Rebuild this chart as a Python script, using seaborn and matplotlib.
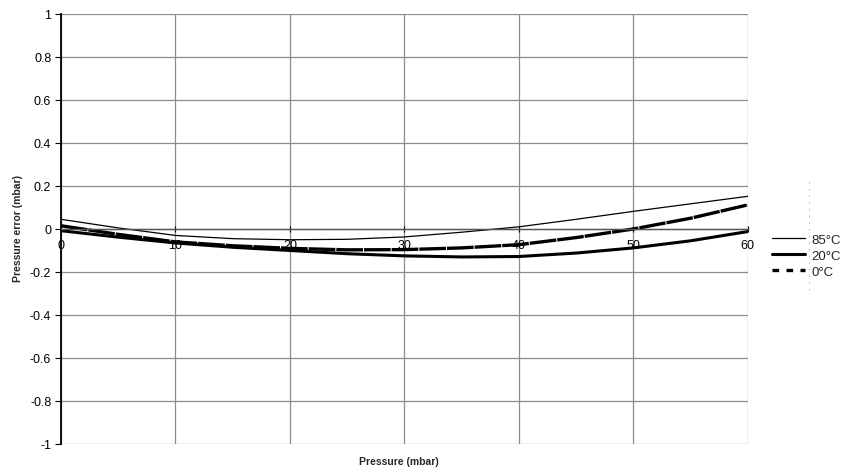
import numpy as np
import pandas as pd
import matplotlib
matplotlib.use("Agg")
import matplotlib.pyplot as plt
from matplotlib.lines import Line2D
import seaborn as sns

# Данные
pressure = [0, 5, 10, 15, 20, 25, 30, 35, 40, 45, 50, 55, 60]
err_85 = [0.045, 0.005, -0.03, -0.045, -0.05, -0.048, -0.037, -0.015, 0.01, 0.045, 0.082, 0.117, 0.152]
err_20 = [-0.008, -0.038, -0.065, -0.085, -0.10, -0.115, -0.125, -0.13, -0.128, -0.112, -0.088, -0.055, -0.012]
err_0 = [0.015, -0.025, -0.06, -0.078, -0.09, -0.097, -0.096, -0.088, -0.073, -0.04, 0.0, 0.05, 0.112]
series_labels = ["85°C", "20°C", "0°C"]
x_ticks = [0, 10, 20, 30, 40, 50, 60]
y_ticks = [-1, -0.8, -0.6, -0.4, -0.2, 0, 0.2, 0.4, 0.6, 0.8, 1]
y_tick_labels = ["-1", "-0.8", "-0.6", "-0.4", "-0.2", "0", "0.2", "0.4", "0.6", "0.8", "1"]

sns.set_theme(style="white")
plt.rcParams["font.family"] = ["Liberation Sans", "DejaVu Sans"]

fig = plt.figure(figsize=(8.44, 4.77), dpi=100)
ax = fig.add_axes([0.0723, 0.0671, 0.8137, 0.9015])

df = pd.DataFrame({"p": pressure, "85": err_85, "20": err_20, "0": err_0})
sns.lineplot(data=df, x="p", y="85", ax=ax, color="black", linewidth=0.9)
sns.lineplot(data=df, x="p", y="20", ax=ax, color="black", linewidth=2.2)
sns.lineplot(data=df, x="p", y="0", ax=ax, color="black", linewidth=2.4,
             linestyle=(0, (8, 0.3)))

ax.set_xlim(0, 60)
ax.set_ylim(-1, 1)
ax.set_xticks(x_ticks)
ax.set_yticks(y_ticks)
ax.set_yticklabels(y_tick_labels)
ax.grid(True, color="#8c8c8c", linewidth=0.9)
ax.set_axisbelow(True)

for s in ["top", "right"]:
    ax.spines[s].set_visible(False)
ax.spines["bottom"].set_position(("data", 0))
ax.spines["bottom"].set_color("#555555")
ax.spines["bottom"].set_linewidth(1.0)
ax.spines["left"].set_color("black")
ax.spines["left"].set_linewidth(1.3)

ax.tick_params(axis="x", direction="inout", length=5, width=0.8, colors="black",
               labelsize=9, pad=4.5, bottom=True)
ax.tick_params(axis="y", direction="out", length=4, width=0.8, colors="black",
               labelsize=9, pad=3, left=True)

ax.set_xlabel("")
ax.set_ylabel("")
fig.text(0.473, 0.032, "Pressure (mbar)", ha="center", va="center",
         fontsize=7.5, fontweight="bold")
fig.text(0.021, 0.52, "Pressure error (mbar)", ha="center", va="center",
         fontsize=7.5, fontweight="bold", rotation=90)

handles = [
    Line2D([], [], color="black", linewidth=0.9),
    Line2D([], [], color="black", linewidth=2.2),
    Line2D([], [], color="black", linewidth=2.4, linestyle=(0, (2, 2.2))),
]
ax.legend(handles, series_labels, loc="upper left", bbox_to_anchor=(1.035, 0.49),
          frameon=False, fontsize=9.5, handlelength=2.5, handletextpad=0.5,
          labelspacing=0.3, borderaxespad=0, borderpad=0)

fig.add_artist(Line2D([0.9585, 0.9585], [0.39, 0.62], transform=fig.transFigure,
                      color="#aaaaaa", linewidth=0.6, linestyle=(0, (2, 6))))

plt.savefig("out.png", dpi=100)
plt.close()
